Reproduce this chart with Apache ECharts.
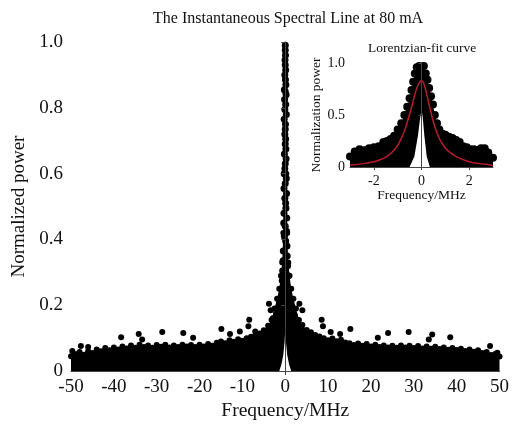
<!DOCTYPE html>
<html>
<head>
<meta charset="utf-8">
<script src="https://cdn.jsdelivr.net/npm/echarts@6/dist/echarts.min.js"></script>
<style>html,body{margin:0;padding:0;background:#fff;}#c{width:512px;height:426px;}</style>
</head>
<body>
<div id="c"></div>
<script>
// ---- Main spectrum (Frequency MHz, Normalized power) ----
const mainEdge = [[-50,0.045],[-49,0.052],[-48,0.058],[-47,0.05],[-46,0.06],[-45,0.055],[-44,0.066],[-43,0.06],[-42,0.07],[-41,0.063],[-40,0.072],[-39,0.066],[-38,0.075],[-37,0.069],[-36,0.078],[-35,0.071],[-34,0.08],[-33,0.073],[-32,0.078],[-31,0.071],[-30,0.079],[-29,0.074],[-28,0.08],[-27,0.072],[-26,0.078],[-25,0.073],[-24,0.08],[-23,0.075],[-22,0.079],[-21,0.073],[-20,0.08],[-19,0.075],[-18,0.082],[-17,0.077],[-16,0.086],[-15,0.09],[-14,0.085],[-13,0.094],[-12,0.089],[-11,0.097],[-10,0.092],[-9,0.1],[-8,0.104],[-7,0.108],[-6,0.114],[-5,0.124],[-4,0.138],[-3.2,0.155],[-2.5,0.19],[-1.9,0.22],[-1.4,0.25],[-1.0,0.29],[-0.7,0.33],[-0.45,0.42],[-0.25,0.6],[-0.1,0.85],[0,0.985],[0.1,0.85],[0.25,0.6],[0.45,0.42],[0.7,0.33],[1.0,0.29],[1.4,0.25],[1.9,0.22],[2.5,0.19],[3.2,0.155],[4,0.14],[5,0.125],[6,0.118],[7,0.11],[8,0.105],[9,0.1],[10,0.094],[11,0.099],[12,0.091],[13,0.095],[14,0.087],[15,0.085],[16,0.079],[17,0.084],[18,0.077],[19,0.082],[20,0.075],[21,0.08],[22,0.073],[23,0.078],[24,0.072],[25,0.077],[26,0.071],[27,0.078],[28,0.072],[29,0.077],[30,0.07],[31,0.076],[32,0.069],[33,0.075],[34,0.068],[35,0.074],[36,0.067],[37,0.072],[38,0.065],[39,0.07],[40,0.064],[41,0.068],[42,0.061],[43,0.066],[44,0.059],[45,0.063],[46,0.055],[47,0.058],[48,0.049],[49,0.052],[50,0.044]];
const mainPeak = [[0,0.99],[0,0.975],[0.05,0.96],[-0.05,0.945],[0,0.93],[0.1,0.915],[-0.1,0.9],[0.05,0.885],[0.15,0.87],[-0.2,0.855],[0.2,0.84],[-0.15,0.825],[0.1,0.81],[-0.1,0.795],[0.25,0.78],[-0.25,0.765],[0.05,0.75],[0,0.735],[-0.1,0.72],[0.1,0.705],[0,0.69],[0.15,0.675],[-0.2,0.66],[0.2,0.645],[0,0.63],[-0.1,0.615],[-0.25,0.6],[0.25,0.585],[0,0.57],[-0.3,0.555],[0.3,0.54],[-0.1,0.525],[0.1,0.51],[0.15,0.495],[-0.3,0.48],[0.35,0.465],[-0.35,0.45],[0,0.44],[0.3,0.425],[-0.2,0.41],[0.1,0.395],[0.4,0.38],[-0.45,0.365],[0.45,0.35],[-0.5,0.335],[0.55,0.32],[-0.6,0.305],[0.65,0.29],[-0.7,0.275],[0.3,0.265],[-0.3,0.25],[0.8,0.25],[0,0.235],[-1.2,0.21],[1.3,0.2],[-2.0,0.175],[2.1,0.17],[-2.8,0.16],[2.7,0.155]];
const mainOutliers = [[-49.7,0.061],[-47.7,0.076],[-46,0.073],[-38.3,0.103],[-34.2,0.113],[-33.4,0.096],[-28.7,0.119],[-23.8,0.116],[-21.5,0.101],[-14.9,0.128],[-12.9,0.113],[-10.6,0.12],[-8.6,0.136],[-8.4,0.156],[-7,0.12],[-3.8,0.205],[-3.4,0.185],[3.3,0.205],[4.0,0.185],[8.5,0.156],[8.8,0.136],[10.6,0.119],[12.8,0.113],[15.2,0.128],[21.6,0.101],[24,0.116],[28.8,0.119],[33.5,0.096],[34.3,0.111],[38.5,0.103],[47.8,0.076],[49.5,0.056]];
const mainGap = [[-1.4,0],[-0.9,0.02],[-0.45,0.05],[-0.15,0.09],[0,0.13],[0.15,0.09],[0.45,0.05],[0.9,0.02],[1.4,0]];
const mainXTicks = [-50,-40,-30,-20,-10,0,10,20,30,40,50];
const mainYTicks = [0,0.2,0.4,0.6,0.8,1.0];

// ---- Inset (Lorentzian fit) ----
const insetEdge = [[-3,0.1],[-2.8,0.15],[-2.6,0.17],[-2.4,0.16],[-2.2,0.18],[-2.0,0.19],[-1.8,0.2],[-1.6,0.24],[-1.45,0.25],[-1.3,0.27],[-1.15,0.3],[-1.0,0.36],[-0.85,0.42],[-0.72,0.5],[-0.6,0.58],[-0.5,0.66],[-0.42,0.74],[-0.35,0.82],[-0.28,0.9],[-0.2,0.96],[-0.1,0.97],[0,0.965],[0.1,0.97],[0.18,0.9],[0.25,0.84],[0.32,0.76],[0.4,0.68],[0.48,0.6],[0.56,0.5],[0.65,0.42],[0.75,0.36],[0.88,0.32],[1.0,0.31],[1.15,0.29],[1.3,0.28],[1.45,0.26],[1.6,0.24],[1.75,0.2],[1.9,0.19],[2.05,0.17],[2.2,0.17],[2.35,0.16],[2.5,0.18],[2.65,0.18],[2.8,0.14],[3,0.09]];
const insetGap = [[-0.5,0],[-0.3,0.1],[-0.15,0.3],[-0.05,0.48],[0,0.55],[0.05,0.48],[0.12,0.3],[0.22,0.1],[0.35,0]];
const fitCurve = [[-3,0.02],[-2.5,0.03],[-2,0.05],[-1.8,0.065],[-1.5,0.095],[-1.1,0.175],[-0.8,0.3],[-0.6,0.43],[-0.4,0.59],[-0.25,0.72],[-0.1,0.81],[0,0.83],[0.1,0.8],[0.25,0.67],[0.4,0.52],[0.57,0.38],[0.78,0.26],[1.0,0.18],[1.2,0.14],[1.5,0.095],[2.0,0.05],[2.5,0.03],[2.9,0.02],[3,0.01]];
const insetXTicks = [-2,0,2];
const insetYTicks = [0,0.5,1.0];

const FONT = 'Liberation Serif';
const TXT = '#111';
const AX = '#444';
const yFmt = v => (v === 0 ? '0' : v.toFixed(1));
const dot = {color: '#000', opacity: 1};

const chart = echarts.init(document.getElementById('c'), null, {renderer: 'canvas'});
chart.setOption({
  animation: false,
  backgroundColor: '#fff',
  textStyle: {fontFamily: FONT, color: TXT},
  title: [
    {text: 'The Instantaneous Spectral Line at 80 mA', left: 153, top: 11, padding: 0,
     textStyle: {fontFamily: FONT, fontSize: 16, fontWeight: 'normal', color: TXT}},
    {text: 'Lorentzian-fit curve', left: 368, top: 41, padding: 0,
     textStyle: {fontFamily: FONT, fontSize: 13.5, fontWeight: 'normal', color: TXT}}
  ],
  grid: [
    {left: 71, right: 7, top: 42, bottom: 49},
    {left: 350, right: 19, top: 63, bottom: 259}
  ],
  xAxis: [
    {type: 'value', gridIndex: 0, min: mainXTicks[0], max: mainXTicks[mainXTicks.length - 1], interval: 10, z: 10,
     name: 'Frequency/MHz', nameLocation: 'middle', nameGap: 21,
     nameTextStyle: {fontFamily: FONT, fontSize: 19.5, color: TXT},
     axisLine: {lineStyle: {color: AX, width: 1}},
     axisTick: {show: true, customValues: [0], length: 4, lineStyle: {color: AX}},
     axisLabel: {customValues: mainXTicks, fontFamily: FONT, fontSize: 19, color: TXT, margin: 6},
     splitLine: {show: false}},
    {type: 'value', gridIndex: 1, min: -3, max: 3, z: 10,
     name: 'Frequency/MHz', nameLocation: 'middle', nameGap: 21,
     nameTextStyle: {fontFamily: FONT, fontSize: 13.5, color: TXT},
     axisLine: {lineStyle: {color: AX, width: 1}},
     axisTick: {show: true, customValues: insetXTicks, length: 3, lineStyle: {color: AX}},
     axisLabel: {customValues: insetXTicks, fontFamily: FONT, fontSize: 14, color: TXT, margin: 7},
     splitLine: {show: false}}
  ],
  yAxis: [
    {type: 'value', gridIndex: 0, min: 0, max: 1, interval: 0.2, z: 10,
     name: 'Normalized power', nameLocation: 'middle', nameGap: 40,
     nameTextStyle: {fontFamily: FONT, fontSize: 19, color: TXT},
     axisLine: {show: true, lineStyle: {color: AX, width: 1}},
     axisTick: {show: true, length: 4, lineStyle: {color: AX}},
     axisLabel: {customValues: mainYTicks, formatter: yFmt, fontFamily: FONT, fontSize: 19, color: TXT, margin: 8},
     splitLine: {show: false}},
    {type: 'value', gridIndex: 1, min: 0, max: 1, interval: 0.5, z: 10,
     name: 'Normalization power', nameLocation: 'middle', nameGap: 26,
     nameTextStyle: {fontFamily: FONT, fontSize: 13.5, color: TXT},
     axisLine: {show: true, lineStyle: {color: AX, width: 1}},
     axisTick: {show: true, length: 3, lineStyle: {color: AX}},
     axisLabel: {customValues: insetYTicks, formatter: yFmt, fontFamily: FONT, fontSize: 14, color: TXT, margin: 5},
     splitLine: {show: false}}
  ],
  series: [
    {type: 'line', xAxisIndex: 0, yAxisIndex: 0, data: mainEdge, showSymbol: false, silent: true, z: 1,
     lineStyle: {width: 0}, areaStyle: {color: '#000', opacity: 1}},
    {type: 'line', xAxisIndex: 0, yAxisIndex: 0, data: mainGap, showSymbol: false, silent: true, z: 2,
     lineStyle: {width: 0}, areaStyle: {color: '#fff', opacity: 1}},
    {type: 'scatter', xAxisIndex: 0, yAxisIndex: 0, data: mainEdge, symbolSize: 6, z: 3, itemStyle: dot},
    {type: 'scatter', xAxisIndex: 0, yAxisIndex: 0, data: mainPeak, symbolSize: 7, z: 3, itemStyle: dot},
    {type: 'scatter', xAxisIndex: 0, yAxisIndex: 0, data: mainOutliers, symbolSize: 6, z: 3, itemStyle: dot},

    {type: 'line', xAxisIndex: 1, yAxisIndex: 1, data: insetEdge, showSymbol: false, silent: true, z: 1,
     lineStyle: {width: 0}, areaStyle: {color: '#000', opacity: 1}},
    {type: 'line', xAxisIndex: 1, yAxisIndex: 1, data: insetGap, showSymbol: false, silent: true, z: 2,
     lineStyle: {width: 0}, areaStyle: {color: '#fff', opacity: 1}},
    {type: 'scatter', xAxisIndex: 1, yAxisIndex: 1, data: insetEdge, symbolSize: 8, z: 3, itemStyle: dot},
    {type: 'line', xAxisIndex: 1, yAxisIndex: 1, data: fitCurve, smooth: true, showSymbol: false, z: 5,
     lineStyle: {color: '#b81c2c', width: 1.5}}
  ]
});
</script>
</body>
</html>
